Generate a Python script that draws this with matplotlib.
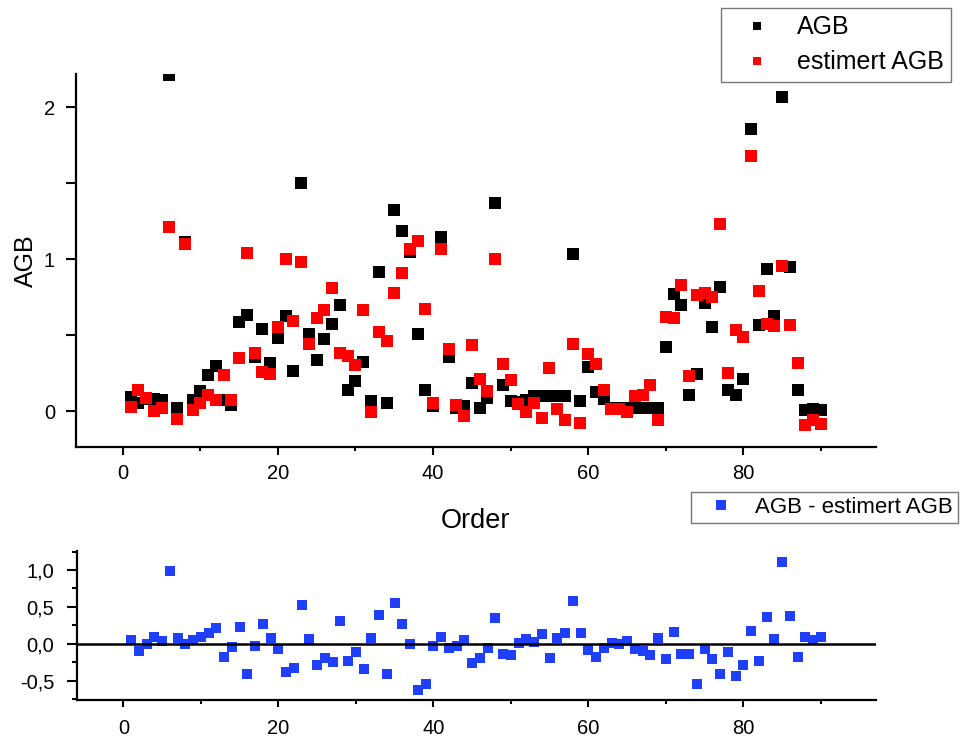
import matplotlib
matplotlib.use("Agg")
import matplotlib.pyplot as plt
from matplotlib.ticker import MultipleLocator, FixedLocator, FuncFormatter
import numpy as np

plt.rcParams['font.family'] = ['Liberation Sans', 'DejaVu Sans']

order = list(range(1, 91))

agb = [0.09, 0.05, 0.08, 0.08, 0.075, 2.21, 0.022, 1.11, 0.07, 0.13,
       0.24, 0.297, 0.075, 0.037, 0.587, 0.63, 0.356, 0.537, 0.316, 0.481,
       0.626, 0.264, 1.499, 0.506, 0.334, 0.477, 0.576, 0.697, 0.136, 0.196,
       0.323, 0.066, 0.917, 0.053, 1.323, 1.185, 1.05, 0.51, 0.136, 0.03,
       1.143, 0.356, 0.02, 0.03, 0.185, 0.022, 0.088, 1.367, 0.169, 0.064,
       0.06, 0.07, 0.097, 0.097, 0.097, 0.097, 0.097, 1.031, 0.064, 0.29,
       0.125, 0.082, 0.02, 0.02, 0.02, 0.02, 0.02, 0.02, 0.02, 0.422,
       0.769, 0.697, 0.103, 0.242, 0.712, 0.55, 0.818, 0.141, 0.108, 0.209,
       1.855, 0.565, 0.934, 0.624, 2.066, 0.945, 0.141, 0.005, 0.011, 0.005]

est_agb = [0.026, 0.136, 0.088, 0.0, 0.02, 1.213, -0.055, 1.10, 0.005, 0.05,
           0.108, 0.07, 0.24, 0.07, 0.352, 1.04, 0.382, 0.257, 0.246, 0.554,
           1.0, 0.591, 0.98, 0.444, 0.615, 0.664, 0.811, 0.382, 0.36, 0.301,
           0.664, -0.006, 0.517, 0.459, 0.774, 0.91, 1.064, 1.119, 0.67, 0.053,
           1.064, 0.411, 0.038, -0.033, 0.437, 0.213, 0.132, 1.0, 0.308, 0.207,
           0.044, -0.006, 0.053, -0.046, 0.284, 0.011, -0.061, 0.444, -0.077, 0.378,
           0.308, 0.141, 0.016, 0.011, -0.006, 0.097, 0.103, 0.169, -0.057, 0.62,
           0.615, 0.828, 0.231, 0.767, 0.774, 0.752, 1.229, 0.25, 0.532, 0.488,
           1.681, 0.789, 0.571, 0.56, 0.954, 0.569, 0.319, -0.094, -0.057, -0.083]

residual = [0.05, -0.095, -0.008, 0.087, 0.041, 0.99, 0.073, -0.008, 0.05, 0.087,
            0.141, 0.217, -0.176, -0.041, 0.222, -0.416, -0.027, 0.267, 0.073, -0.072,
            -0.389, -0.326, 0.525, 0.059, -0.289, -0.199, -0.244, 0.312, -0.235, -0.108,
            -0.348, 0.073, 0.389, -0.411, 0.548, 0.267, -0.008, -0.628, -0.547, -0.027,
            0.087, -0.063, -0.027, 0.05, -0.258, -0.199, -0.054, 0.353, -0.14, -0.153,
            0.005, 0.059, 0.028, 0.132, -0.199, 0.073, 0.15, 0.584, 0.141, -0.086,
            -0.185, -0.063, 0.014, -0.004, 0.041, -0.072, -0.095, -0.153, 0.073, -0.212,
            0.154, -0.14, -0.14, -0.547, -0.077, -0.212, -0.416, -0.108, -0.434, -0.289,
            0.177, -0.231, 0.357, 0.059, 1.113, 0.376, -0.185, 0.087, 0.05, 0.087]

top_xticks = [0, 20, 40, 60, 80]
top_yticks = [0, 1, 2]
bot_yticks = [-0.5, 0.0, 0.5, 1.0]

W, H = 969, 740
fig = plt.figure(figsize=(W / 100, H / 100), dpi=100)

def axrect(l, t, r, b):
    return [l / W, 1 - b / H, (r - l) / W, (b - t) / H]

# ---------- top panel ----------
ax = fig.add_axes(axrect(76, 74, 876, 447))
ax.plot(order, agb, 's', color='black', ms=8.4, mew=0, ls='none', label='AGB')
ax.plot(order, est_agb, 's', color='#ff0000', ms=8.4, mew=0, ls='none', label='estimert AGB')
ax.set_xlim(-6.03, 97.1)
ax.set_ylim(-0.237, 2.219)
for s in ['top', 'right']:
    ax.spines[s].set_visible(False)
for s in ['left', 'bottom']:
    ax.spines[s].set_linewidth(1.6)
ax.xaxis.set_major_locator(FixedLocator(top_xticks))
ax.xaxis.set_minor_locator(MultipleLocator(10))
ax.yaxis.set_major_locator(FixedLocator(top_yticks))
ax.yaxis.set_minor_locator(MultipleLocator(0.5))
ax.tick_params(axis='x', which='major', direction='out', length=6, width=1.5, labelsize=14.5, pad=6)
ax.tick_params(axis='x', which='minor', direction='out', length=3, width=1.5)
ax.tick_params(axis='y', which='both', direction='out', length=7.2, width=1.5, labelsize=14.5, pad=8)
ax.set_xlabel('Order', fontsize=19.5)
ax.xaxis.set_label_coords(0.5, -0.163)
ax.xaxis.label.set_va('top')
ax.set_ylabel('AGB', fontsize=18)
ax.yaxis.set_label_coords(-0.048, 0.5)

fig.legend(handles=ax.get_lines(), loc='upper left',
           bbox_to_anchor=(721 / W, 1 - 8 / H), borderaxespad=0,
           fontsize=18, frameon=True, fancybox=False, edgecolor='#555555',
           borderpad=0.3, handlelength=2.28, handletextpad=0.46, labelspacing=0.43,
           markerscale=0.75)

# ---------- bottom panel ----------
bx = fig.add_axes(axrect(76.7, 551, 876, 700))
bx.plot(order, residual, 's', color='#1f3fff', ms=7.6, mew=0, ls='none', label='AGB - estimert AGB')
bx.axhline(0, color='black', lw=1.8, zorder=3)
bx.set_xlim(-6.03, 97.1)
bx.set_ylim(-0.764, 1.258)
for s in ['top', 'right']:
    bx.spines[s].set_visible(False)
for s in ['left', 'bottom']:
    bx.spines[s].set_linewidth(1.6)
bx.xaxis.set_major_locator(FixedLocator(top_xticks))
bx.xaxis.set_minor_locator(MultipleLocator(10))
bx.yaxis.set_major_locator(FixedLocator(bot_yticks))
bx.yaxis.set_minor_locator(MultipleLocator(0.25))
bx.yaxis.set_major_formatter(FuncFormatter(lambda v, p: f"{v:.1f}".replace('.', ',')))
bx.tick_params(axis='x', which='major', direction='out', length=5, width=1.5, labelsize=14.5, pad=9)
bx.tick_params(axis='x', which='minor', direction='out', length=3, width=1.5)
bx.tick_params(axis='y', which='major', direction='out', length=7.2, width=1.5, labelsize=14.5, pad=9)
bx.tick_params(axis='y', which='minor', direction='out', length=3.6, width=1.5)

fig.legend(handles=bx.get_lines()[:1], loc='upper left',
           bbox_to_anchor=(691 / W, 1 - 492 / H), borderaxespad=0,
           fontsize=16, frameon=True, fancybox=False, edgecolor='#555555',
           borderpad=0.225, handlelength=2.25, handletextpad=0.4)

fig.savefig('out.png', dpi=100)
